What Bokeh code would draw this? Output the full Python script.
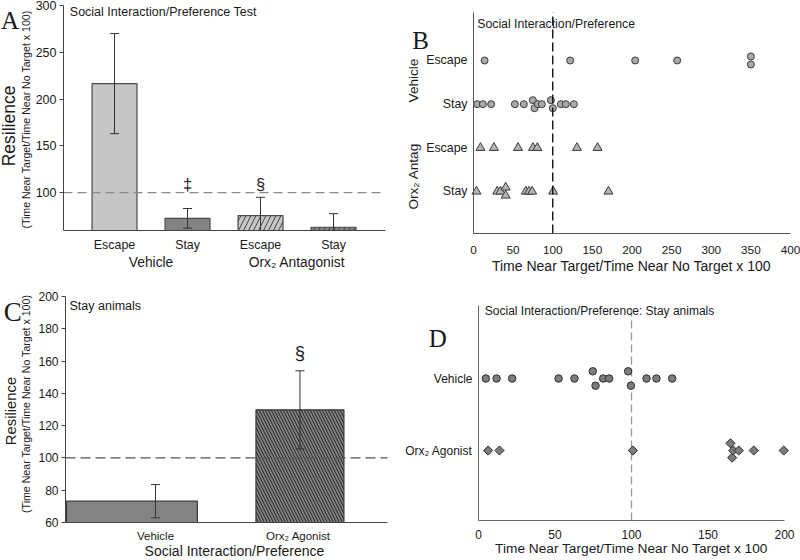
import math
from bokeh.plotting import figure
from bokeh.models import Range1d, LinearAxis, FixedTicker, Label
from bokeh.layouts import column, row
from bokeh.embed import file_html
from bokeh.resources import INLINE

SANS = "Liberation Sans"
SERIF = "Liberation Serif"
INK = "#1a1a1a"

# ------------------------------------------------------------------ data
# Panel A : Social Interaction/Preference Test (mean +/- SEM)
a_conditions = ["Escape", "Stay", "Escape", "Stay"]
a_groups = ["Vehicle", "Orx₂ Antagonist"]
a_means = [216.5, 72.5, 75.5, 63.0]
a_sems = [53.5, 10.5, 19.5, 14.5]
a_marks = ["", "‡", "§", ""]
a_yticks = [100, 150, 200, 250, 300]

# Panel B : individual animals
b_rows = ["Stay", "Escape", "Stay", "Escape"]          # bottom -> top
b_groups = ["Orx₂ Antag", "Vehicle"]                   # bottom -> top
b_veh_escape = [14, 122, 204, 257, 350, 350]
b_veh_escape_stack = [0, 0, 0, 0, 1, -1]
b_veh_stay = [4.6, 11.8, 22.3, 52.2, 63.5, 74.9, 77.0, 81.2, 86.2, 97.6, 100.1, 110.2, 116.5, 126.6]
b_veh_stay_stack = [0, 0, 0, 0, 0, 1, -1, 0, 0, 1, -1, 0, 0, 0]
b_orx_escape = [8.8, 25.8, 56.2, 75.0, 80.6, 130.5, 156.5]
b_orx_escape_stack = [0, 0, 0, 0, 0, 0, 0]
b_orx_stay = [3.8, 29.9, 34.0, 40.6, 40.6, 66.0, 70.0, 74.0, 100.5, 170.3]
b_orx_stay_stack = [0, 0, 0, 1, -1, 0, 0, 0, 0, 0]
b_xticks = [0, 50, 100, 150, 200, 250, 300, 350, 400]

# Panel C : Stay animals (mean +/- SEM)
c_conditions = ["Vehicle", "Orx₂  Agonist"]
c_means = [73.2, 129.8]
c_sems = [10.3, 24.2]
c_marks = ["", "§"]
c_yticks = [60, 80, 100, 120, 140, 160, 180, 200]

# Panel D : Stay animals, individual
d_rows = ["Orx₂ Agonist", "Vehicle"]                   # bottom -> top
d_vehicle = [4.8, 11.8, 22.0, 52.3, 62.7, 74.7, 76.5, 81.5, 85.4, 97.8, 99.6, 109.8, 116.3, 126.6]
d_vehicle_stack = [0, 0, 0, 0, 0, 1, -1, 0, 0, 1, -1, 0, 0, 0]
d_agonist = [6.3, 13.7, 100.9, 164.7, 165.8, 166.5, 170.1, 179.9, 199.5]
d_agonist_stack = [0, 0, 0, 1, -1, 0, 0, 0, 0]
d_xticks = [0, 50, 100, 150, 200]

REFERENCE = 100
X_TITLE = "Time Near Target/Time Near No Target x 100"
Y_TITLE = "Resilience"
Y_SUB = "(Time Near Target/Time Near No Target x 100)"

# ------------------------------------------------------------------ layout helpers
W, H = 400, 280


class Panel:
    """Maps page-pixel positions of one panel into its data space."""

    def __init__(self, ox, oy, box, ax, ay):
        X0, X1, Y0, Y1 = box
        aL, aR = X0 - ox, X1 - ox
        aT, aB = Y0 - oy, Y1 - oy
        kx = (ax[1] - ax[0]) / (aR - aL)
        ky = (ay[1] - ay[0]) / (aB - aT)
        self.xr = (ax[0] - aL * kx, ax[1] + (W - aR) * kx)
        self.yr = (ay[0] - (H - aB) * ky, ay[1] + aT * ky)
        self.ax, self.ay, self.ox, self.oy = ax, ay, ox, oy

    def at(self, X, Y):
        lx, ly = X - self.ox, Y - self.oy
        x = self.xr[0] + lx / W * (self.xr[1] - self.xr[0])
        y = self.yr[1] - ly / H * (self.yr[1] - self.yr[0])
        return x, y


PA = Panel(0, 0, (63, 385, 5, 230), (0.301, 4.712), (59.5, 300))
PB = Panel(400, 0, (473, 790, 11.7, 233), (0, 400), (0.038, 5.106))
PC = Panel(0, 280, (65, 387, 296, 522), (0.377, 2.606), (60, 200))
PD = Panel(400, 280, (478, 784, 305, 520), (0, 200), (0.028, 3.014))


def make_fig(pn):
    p = figure(width=W, height=H, x_range=Range1d(*pn.xr), y_range=Range1d(*pn.yr),
               x_axis_type=None, y_axis_type=None, output_backend="svg",
               toolbar_location=None, min_border=0,
               min_border_left=0, min_border_right=0, min_border_top=0, min_border_bottom=0)
    p.outline_line_color = None
    p.background_fill_color = "white"
    p.border_fill_color = "white"
    return p


def axis(p, pn, side, ticks, overrides=None, font_size="12px", standoff=5, tick_out=0,
         line_color="#444444"):
    ax = LinearAxis(ticker=FixedTicker(ticks=ticks, minor_ticks=[]))
    if side == "left":
        ax.fixed_location = pn.ax[0]
        ax.bounds = pn.ay
    else:
        ax.fixed_location = pn.ay[0]
        ax.bounds = pn.ax
    if overrides:
        ax.major_label_overrides = overrides
    ax.major_label_text_font = SANS
    ax.major_label_text_font_size = font_size
    ax.major_label_text_color = INK
    ax.major_label_standoff = standoff
    ax.major_tick_out = tick_out
    ax.major_tick_in = 0
    ax.major_tick_line_color = line_color if tick_out else None
    ax.minor_tick_line_color = None
    ax.axis_line_color = line_color
    p.add_layout(ax, side)
    return ax


def text_at(p, pn, X, Y, text, size, font=SANS, baseline="middle", align="left",
            x=None, angle=0.0):
    dx, dy = pn.at(X, Y)
    if x is not None:
        dx = x
    p.add_layout(Label(x=dx, y=dy, text=text, text_font=font, text_font_size=size,
                       text_baseline=baseline, text_align=align, text_color=INK, angle=angle))


def error_bars(p, xs, means, sems, floor, color="#333333"):
    up = [m + s for m, s in zip(means, sems)]
    lo = [m - s for m, s in zip(means, sems)]
    lo_vis = [max(v, floor) for v in lo]
    p.segment(x0=xs, y0=lo_vis, x1=xs, y1=up, line_color=color, line_width=1)
    p.scatter(x=xs, y=up, marker="dash", size=9, line_color=color, line_width=1)
    cx = [x for x, v in zip(xs, lo) if v >= floor]
    cy = [v for v in lo if v >= floor]
    p.scatter(x=cx, y=cy, marker="dash", size=9, line_color=color, line_width=1)


def ref_hline(p, pn, color, dash, width=1.3):
    p.segment(x0=[pn.ax[0]], y0=[REFERENCE], x1=[pn.ax[1]], y1=[REFERENCE],
              line_color=color, line_dash=dash, line_width=width)


def ref_vline(p, pn, color, dash, width=1.3):
    p.segment(x0=[REFERENCE], y0=[pn.ay[0]], x1=[REFERENCE], y1=[pn.ay[1]],
              line_color=color, line_dash=dash, line_width=width)


# ------------------------------------------------------------------ Panel A
pA = make_fig(PA)
a_x = [i + 1 for i in range(len(a_means))]
a_fill = ["#c6c6c6", "#838383", "#c6c6c6", "#838383"]
a_hatch = [" ", " ", "/", "/"]
pA.vbar(x=a_x, top=a_means, bottom=PA.ay[0], width=0.616, fill_color=a_fill,
        line_color="#4a4a4a", line_width=1.2, hatch_pattern=a_hatch, hatch_color="#444444",
        hatch_scale=10, hatch_weight=1)
error_bars(pA, a_x, a_means, a_sems, PA.ay[0])
ref_hline(pA, PA, "#8a8a8a", "9 5")
axis(pA, PA, "left", a_yticks, font_size="12.5px", standoff=3, tick_out=4)
axis(pA, PA, "below", a_x, {x: c for x, c in zip(a_x, a_conditions)}, font_size="12.4px", standoff=7)
text_at(pA, PA, 0, 262.3, a_groups[0], "13.8px", align="center", x=1.5)
text_at(pA, PA, 0, 262.3, a_groups[1], "13.8px", align="center", x=3.5)
text_at(pA, PA, 8.5, 125.5, Y_TITLE, "17.5px", align="center", angle=math.pi / 2)
text_at(pA, PA, 25, 119, Y_SUB, "10.6px", align="center", angle=math.pi / 2)
text_at(pA, PA, 69.3, 11.7, "Social Interaction/Preference Test", "12.5px")
for x, m in zip(a_x, a_marks):
    if m:
        text_at(pA, PA, 0, 183.7, m, "16.5px", align="center", x=x)
text_at(pA, PA, 0.5, 19.5, "A", "25px", font=SERIF, baseline="alphabetic")

# ------------------------------------------------------------------ Panel B
pB = make_fig(PB)
B_STEP = 0.092
for vals, stack, r in [(b_veh_escape, b_veh_escape_stack, 4), (b_veh_stay, b_veh_stay_stack, 3)]:
    pB.scatter(x=vals, y=[r + s * B_STEP for s in stack], marker="circle", size=7,
               fill_color="#a9a9a9", line_color="#3a3a3a", line_width=1)
for vals, stack, r in [(b_orx_escape, b_orx_escape_stack, 2), (b_orx_stay, b_orx_stay_stack, 1)]:
    pB.scatter(x=vals, y=[r + s * B_STEP for s in stack], marker="triangle", size=9,
               fill_color="#b4b4b4", line_color="#3a3a3a", line_width=1)
ref_vline(pB, PB, "#111111", "9 4", 1.4)
axis(pB, PB, "left", [1, 2, 3, 4], {i + 1: r for i, r in enumerate(b_rows)}, font_size="12.4px",
     standoff=6, line_color="#555555")
axis(pB, PB, "below", b_xticks, font_size="11.8px", standoff=12, line_color="#555555")
text_at(pB, PB, 631, 265, X_TITLE, "14px", align="center")
text_at(pB, PB, 412.5, 80, b_groups[1], "13.6px", align="center", angle=math.pi / 2)
text_at(pB, PB, 412.5, 175.8, b_groups[0], "13.6px", align="center", angle=math.pi / 2)
text_at(pB, PB, 476.7, 23.3, "Social Interaction/Preference", "12.3px")
text_at(pB, PB, 411.7, 40, "B", "25px", font=SERIF, baseline="alphabetic")

# ------------------------------------------------------------------ Panel C
pC = make_fig(PC)
c_x = [1, 2]
pC.quad(left=[c_x[0] - 0.616], right=[c_x[0] + 0.29], bottom=[PC.ay[0]], top=[c_means[0]],
        fill_color="#838383", line_color="#3a3a3a", line_width=1.2)
pC.vbar(x=[c_x[1]], top=[c_means[1]], bottom=PC.ay[0], width=0.609, fill_color="#838383",
        line_color="#3a3a3a", line_width=1.2, hatch_pattern="\\", hatch_color="#222222",
        hatch_scale=6, hatch_weight=1)
error_bars(pC, c_x, c_means, c_sems, PC.ay[0])
ref_hline(pC, PC, "#555555", "10 5")
axis(pC, PC, "left", c_yticks, font_size="12px", standoff=3, tick_out=4)
axis(pC, PC, "below", c_x, {x: c for x, c in zip(c_x, c_conditions)}, font_size="11.5px", standoff=7)
text_at(pC, PC, 234, 550, "Social Interaction/Preference", "14px", align="center")
text_at(pC, PC, 10, 410.5, Y_TITLE, "14.8px", align="center", angle=math.pi / 2)
text_at(pC, PC, 25, 403.3, Y_SUB, "10.6px", align="center", angle=math.pi / 2)
text_at(pC, PC, 69, 305, "Stay animals", "12.5px")
for x, m in zip(c_x, c_marks):
    if m:
        text_at(pC, PC, 0, 351.7, m, "18.5px", align="center", x=x)
text_at(pC, PC, 3.3, 311.7, "C", "27px", font=SERIF, baseline="alphabetic")

# ------------------------------------------------------------------ Panel D
pD = make_fig(PD)
D_STEP = 0.1
ref_vline(pD, PD, "#9a9a9a", "8 4")
pD.scatter(x=d_vehicle, y=[2 + s * D_STEP for s in d_vehicle_stack], marker="circle", size=7.5,
           fill_color="#7c7c7c", line_color="#2e2e2e", line_width=1)
pD.scatter(x=d_agonist, y=[1 + s * D_STEP for s in d_agonist_stack], marker="square",
           angle=math.pi / 4, size=6.5, fill_color="#7c7c7c", line_color="#2e2e2e", line_width=1)
axis(pD, PD, "left", [1, 2], {1: d_rows[0], 2: d_rows[1]}, font_size="12px", standoff=6,
     line_color="#666666")
axis(pD, PD, "below", d_xticks, font_size="12px", standoff=9, line_color="#666666")
text_at(pD, PD, 631, 548.3, X_TITLE, "13.7px", align="center")
text_at(pD, PD, 484.3, 310, "Social Interaction/Preference: Stay animals", "12px")
text_at(pD, PD, 428.3, 338.3, "D", "25px", font=SERIF, baseline="alphabetic")

layout = column(row(pA, pB), row(pC, pD))

open("out.html", "w").write(file_html(layout, INLINE))
